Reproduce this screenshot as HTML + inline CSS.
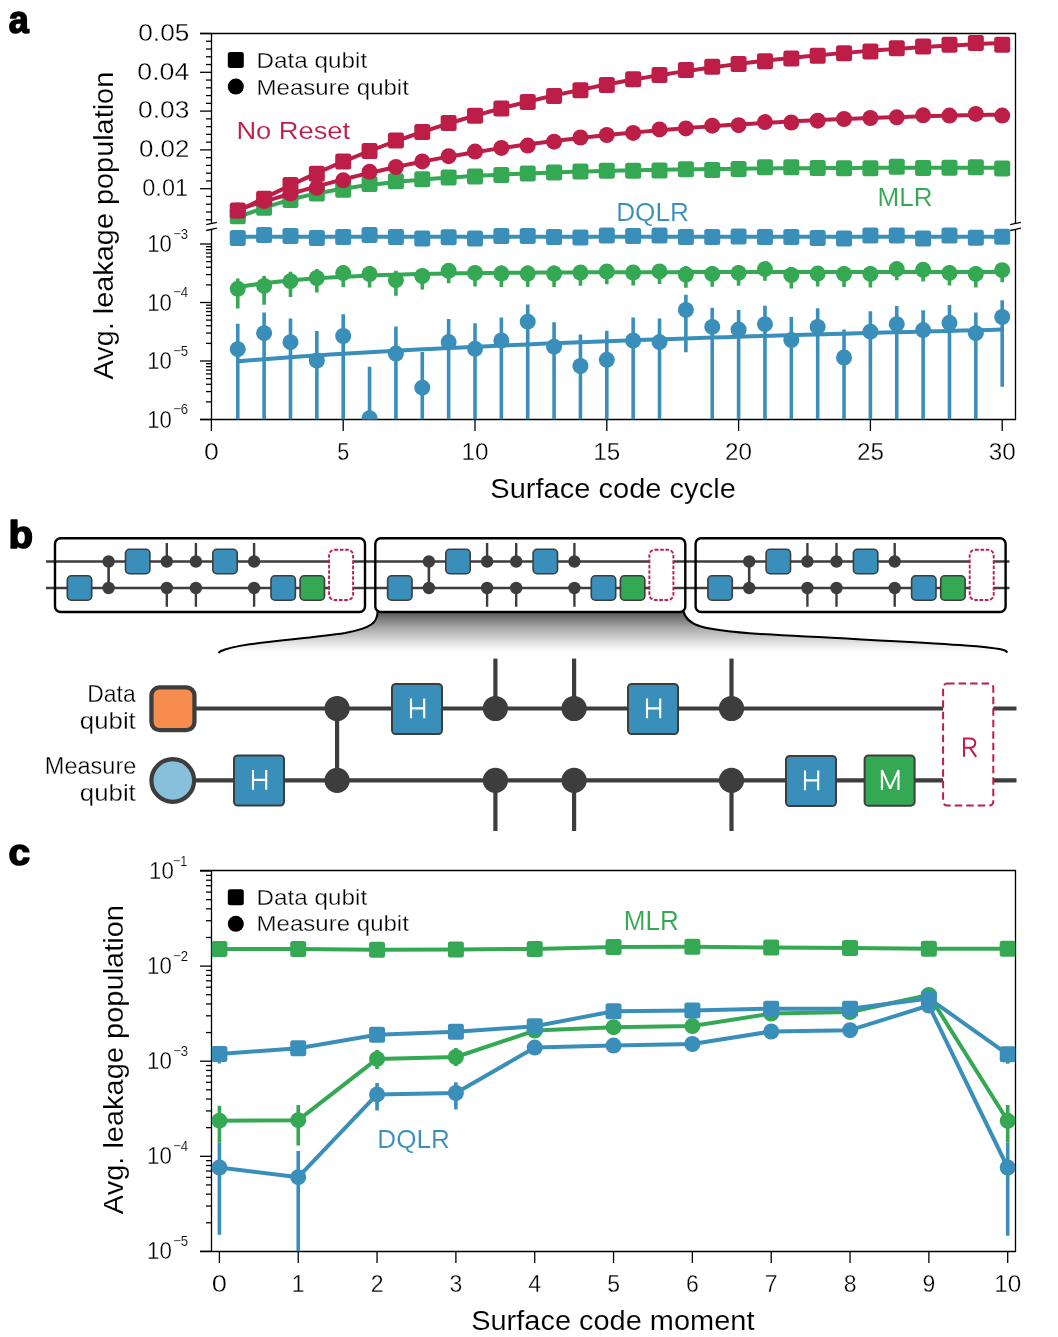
<!DOCTYPE html>
<html><head><meta charset="utf-8"><style>
html,body{margin:0;padding:0;background:#fff;}
svg{display:block;font-family:"Liberation Sans", sans-serif;will-change:transform;}
</style></head><body>
<svg width="1058" height="1337" viewBox="0 0 1058 1337">
<rect width="1058" height="1337" fill="#fff"/>
<defs>
<clipPath id="clipA"><rect x="211.5" y="33.5" width="804" height="386"/></clipPath>
<clipPath id="clipC"><rect x="211.5" y="870.5" width="804" height="381"/></clipPath>
<linearGradient id="fun" gradientUnits="userSpaceOnUse" x1="0" y1="611" x2="0" y2="652"><stop offset="0" stop-color="#555"/><stop offset="0.17" stop-color="#777"/><stop offset="0.41" stop-color="#a8a8a8"/><stop offset="0.69" stop-color="#d5d5d5"/><stop offset="0.84" stop-color="#ececec"/><stop offset="1" stop-color="#fff"/></linearGradient>
</defs>
<text x="8.8" y="32.9" font-size="38" fill="#000" textLength="20" lengthAdjust="spacingAndGlyphs" font-weight="bold" stroke="#000" stroke-width="1.6" stroke-linejoin="round">a</text>
<line x1="200.00" y1="33.50" x2="1016.10" y2="33.50" stroke="#000" stroke-width="1.3" />
<line x1="200.00" y1="419.50" x2="1016.10" y2="419.50" stroke="#000" stroke-width="1.3" />
<line x1="211.50" y1="33.50" x2="211.50" y2="223.40" stroke="#000" stroke-width="1.3" />
<line x1="211.50" y1="229.40" x2="211.50" y2="419.50" stroke="#000" stroke-width="1.3" />
<line x1="1015.50" y1="33.50" x2="1015.50" y2="223.30" stroke="#000" stroke-width="1.3" />
<line x1="1015.50" y1="229.40" x2="1015.50" y2="419.50" stroke="#000" stroke-width="1.3" />
<line x1="206.20" y1="224.70" x2="216.90" y2="222.30" stroke="#000" stroke-width="1.3" />
<line x1="206.20" y1="230.50" x2="216.90" y2="228.20" stroke="#000" stroke-width="1.3" />
<line x1="1010.20" y1="224.70" x2="1020.90" y2="222.30" stroke="#000" stroke-width="1.3" />
<line x1="1010.20" y1="230.50" x2="1020.90" y2="228.20" stroke="#000" stroke-width="1.3" />
<line x1="206.00" y1="219.74" x2="211.50" y2="219.74" stroke="#000" stroke-width="1.3" />
<line x1="206.00" y1="211.98" x2="211.50" y2="211.98" stroke="#000" stroke-width="1.3" />
<line x1="206.00" y1="204.22" x2="211.50" y2="204.22" stroke="#000" stroke-width="1.3" />
<line x1="206.00" y1="196.46" x2="211.50" y2="196.46" stroke="#000" stroke-width="1.3" />
<line x1="200.00" y1="188.70" x2="211.50" y2="188.70" stroke="#000" stroke-width="1.3" />
<line x1="206.00" y1="180.94" x2="211.50" y2="180.94" stroke="#000" stroke-width="1.3" />
<line x1="206.00" y1="173.18" x2="211.50" y2="173.18" stroke="#000" stroke-width="1.3" />
<line x1="206.00" y1="165.42" x2="211.50" y2="165.42" stroke="#000" stroke-width="1.3" />
<line x1="206.00" y1="157.66" x2="211.50" y2="157.66" stroke="#000" stroke-width="1.3" />
<line x1="200.00" y1="149.90" x2="211.50" y2="149.90" stroke="#000" stroke-width="1.3" />
<line x1="206.00" y1="142.14" x2="211.50" y2="142.14" stroke="#000" stroke-width="1.3" />
<line x1="206.00" y1="134.38" x2="211.50" y2="134.38" stroke="#000" stroke-width="1.3" />
<line x1="206.00" y1="126.62" x2="211.50" y2="126.62" stroke="#000" stroke-width="1.3" />
<line x1="206.00" y1="118.86" x2="211.50" y2="118.86" stroke="#000" stroke-width="1.3" />
<line x1="200.00" y1="111.10" x2="211.50" y2="111.10" stroke="#000" stroke-width="1.3" />
<line x1="206.00" y1="103.34" x2="211.50" y2="103.34" stroke="#000" stroke-width="1.3" />
<line x1="206.00" y1="95.58" x2="211.50" y2="95.58" stroke="#000" stroke-width="1.3" />
<line x1="206.00" y1="87.82" x2="211.50" y2="87.82" stroke="#000" stroke-width="1.3" />
<line x1="206.00" y1="80.06" x2="211.50" y2="80.06" stroke="#000" stroke-width="1.3" />
<line x1="200.00" y1="72.30" x2="211.50" y2="72.30" stroke="#000" stroke-width="1.3" />
<line x1="206.00" y1="64.54" x2="211.50" y2="64.54" stroke="#000" stroke-width="1.3" />
<line x1="206.00" y1="56.78" x2="211.50" y2="56.78" stroke="#000" stroke-width="1.3" />
<line x1="206.00" y1="49.02" x2="211.50" y2="49.02" stroke="#000" stroke-width="1.3" />
<line x1="206.00" y1="41.26" x2="211.50" y2="41.26" stroke="#000" stroke-width="1.3" />
<line x1="200.00" y1="33.50" x2="211.50" y2="33.50" stroke="#000" stroke-width="1.3" />
<text x="189.3" y="40.8" font-size="23" fill="#000" text-anchor="end" textLength="51" lengthAdjust="spacingAndGlyphs" stroke="#fff" stroke-width="0.3">0.05</text>
<text x="189.3" y="79.60000000000001" font-size="23" fill="#000" text-anchor="end" textLength="52" lengthAdjust="spacingAndGlyphs" stroke="#fff" stroke-width="0.3">0.04</text>
<text x="189.3" y="118.4" font-size="23" fill="#000" text-anchor="end" textLength="51.3" lengthAdjust="spacingAndGlyphs" stroke="#fff" stroke-width="0.3">0.03</text>
<text x="189.3" y="157.20000000000002" font-size="23" fill="#000" text-anchor="end" textLength="50.4" lengthAdjust="spacingAndGlyphs" stroke="#fff" stroke-width="0.3">0.02</text>
<text x="188.0" y="196.00000000000003" font-size="23" fill="#000" text-anchor="end" textLength="45.7" lengthAdjust="spacingAndGlyphs" stroke="#fff" stroke-width="0.3">0.01</text>
<line x1="200.00" y1="419.50" x2="211.50" y2="419.50" stroke="#000" stroke-width="1.3" />
<line x1="206.00" y1="401.89" x2="211.50" y2="401.89" stroke="#000" stroke-width="1.3" />
<line x1="206.00" y1="391.59" x2="211.50" y2="391.59" stroke="#000" stroke-width="1.3" />
<line x1="206.00" y1="384.28" x2="211.50" y2="384.28" stroke="#000" stroke-width="1.3" />
<line x1="206.00" y1="378.61" x2="211.50" y2="378.61" stroke="#000" stroke-width="1.3" />
<line x1="206.00" y1="373.98" x2="211.50" y2="373.98" stroke="#000" stroke-width="1.3" />
<line x1="206.00" y1="370.06" x2="211.50" y2="370.06" stroke="#000" stroke-width="1.3" />
<line x1="206.00" y1="366.67" x2="211.50" y2="366.67" stroke="#000" stroke-width="1.3" />
<line x1="206.00" y1="363.68" x2="211.50" y2="363.68" stroke="#000" stroke-width="1.3" />
<line x1="200.00" y1="361.00" x2="211.50" y2="361.00" stroke="#000" stroke-width="1.3" />
<line x1="206.00" y1="343.39" x2="211.50" y2="343.39" stroke="#000" stroke-width="1.3" />
<line x1="206.00" y1="333.09" x2="211.50" y2="333.09" stroke="#000" stroke-width="1.3" />
<line x1="206.00" y1="325.78" x2="211.50" y2="325.78" stroke="#000" stroke-width="1.3" />
<line x1="206.00" y1="320.11" x2="211.50" y2="320.11" stroke="#000" stroke-width="1.3" />
<line x1="206.00" y1="315.48" x2="211.50" y2="315.48" stroke="#000" stroke-width="1.3" />
<line x1="206.00" y1="311.56" x2="211.50" y2="311.56" stroke="#000" stroke-width="1.3" />
<line x1="206.00" y1="308.17" x2="211.50" y2="308.17" stroke="#000" stroke-width="1.3" />
<line x1="206.00" y1="305.18" x2="211.50" y2="305.18" stroke="#000" stroke-width="1.3" />
<line x1="200.00" y1="302.50" x2="211.50" y2="302.50" stroke="#000" stroke-width="1.3" />
<line x1="206.00" y1="284.89" x2="211.50" y2="284.89" stroke="#000" stroke-width="1.3" />
<line x1="206.00" y1="274.59" x2="211.50" y2="274.59" stroke="#000" stroke-width="1.3" />
<line x1="206.00" y1="267.28" x2="211.50" y2="267.28" stroke="#000" stroke-width="1.3" />
<line x1="206.00" y1="261.61" x2="211.50" y2="261.61" stroke="#000" stroke-width="1.3" />
<line x1="206.00" y1="256.98" x2="211.50" y2="256.98" stroke="#000" stroke-width="1.3" />
<line x1="206.00" y1="253.06" x2="211.50" y2="253.06" stroke="#000" stroke-width="1.3" />
<line x1="206.00" y1="249.67" x2="211.50" y2="249.67" stroke="#000" stroke-width="1.3" />
<line x1="206.00" y1="246.68" x2="211.50" y2="246.68" stroke="#000" stroke-width="1.3" />
<line x1="200.00" y1="244.00" x2="211.50" y2="244.00" stroke="#000" stroke-width="1.3" />
<text x="171.8" y="252.0" font-size="23" fill="#000" text-anchor="end" textLength="24.6" lengthAdjust="spacingAndGlyphs" stroke="#fff" stroke-width="0.3">10</text>
<text x="173.2" y="238.8" font-size="15.5" fill="#000" textLength="15" lengthAdjust="spacingAndGlyphs" stroke="#fff" stroke-width="0.15">−3</text>
<text x="171.8" y="310.5" font-size="23" fill="#000" text-anchor="end" textLength="24.6" lengthAdjust="spacingAndGlyphs" stroke="#fff" stroke-width="0.3">10</text>
<text x="173.2" y="297.3" font-size="15.5" fill="#000" textLength="15" lengthAdjust="spacingAndGlyphs" stroke="#fff" stroke-width="0.15">−4</text>
<text x="171.8" y="369.0" font-size="23" fill="#000" text-anchor="end" textLength="24.6" lengthAdjust="spacingAndGlyphs" stroke="#fff" stroke-width="0.3">10</text>
<text x="173.2" y="355.8" font-size="15.5" fill="#000" textLength="15" lengthAdjust="spacingAndGlyphs" stroke="#fff" stroke-width="0.15">−5</text>
<text x="171.8" y="427.5" font-size="23" fill="#000" text-anchor="end" textLength="24.6" lengthAdjust="spacingAndGlyphs" stroke="#fff" stroke-width="0.3">10</text>
<text x="173.2" y="414.3" font-size="15.5" fill="#000" textLength="15" lengthAdjust="spacingAndGlyphs" stroke="#fff" stroke-width="0.15">−6</text>
<line x1="211.40" y1="419.50" x2="211.40" y2="431.00" stroke="#000" stroke-width="1.3" />
<text x="211.4" y="460.3" font-size="23" fill="#000" text-anchor="middle" textLength="14.8" lengthAdjust="spacingAndGlyphs" stroke="#fff" stroke-width="0.3">0</text>
<line x1="343.20" y1="419.50" x2="343.20" y2="431.00" stroke="#000" stroke-width="1.3" />
<text x="343.20000000000005" y="460.3" font-size="23" fill="#000" text-anchor="middle" textLength="12" lengthAdjust="spacingAndGlyphs" stroke="#fff" stroke-width="0.3">5</text>
<line x1="475.00" y1="419.50" x2="475.00" y2="431.00" stroke="#000" stroke-width="1.3" />
<text x="475.0" y="460.3" font-size="23" fill="#000" text-anchor="middle" textLength="27" lengthAdjust="spacingAndGlyphs" stroke="#fff" stroke-width="0.3">10</text>
<line x1="606.80" y1="419.50" x2="606.80" y2="431.00" stroke="#000" stroke-width="1.3" />
<text x="606.8" y="460.3" font-size="23" fill="#000" text-anchor="middle" textLength="27" lengthAdjust="spacingAndGlyphs" stroke="#fff" stroke-width="0.3">15</text>
<line x1="738.60" y1="419.50" x2="738.60" y2="431.00" stroke="#000" stroke-width="1.3" />
<text x="738.6" y="460.3" font-size="23" fill="#000" text-anchor="middle" textLength="27" lengthAdjust="spacingAndGlyphs" stroke="#fff" stroke-width="0.3">20</text>
<line x1="870.40" y1="419.50" x2="870.40" y2="431.00" stroke="#000" stroke-width="1.3" />
<text x="870.4" y="460.3" font-size="23" fill="#000" text-anchor="middle" textLength="27" lengthAdjust="spacingAndGlyphs" stroke="#fff" stroke-width="0.3">25</text>
<line x1="1002.20" y1="419.50" x2="1002.20" y2="431.00" stroke="#000" stroke-width="1.3" />
<text x="1002.1999999999999" y="460.3" font-size="23" fill="#000" text-anchor="middle" textLength="27" lengthAdjust="spacingAndGlyphs" stroke="#fff" stroke-width="0.3">30</text>
<text x="490.3" y="497.6" font-size="27" fill="#000" textLength="245.5" lengthAdjust="spacingAndGlyphs" stroke="#fff" stroke-width="0.12">Surface code cycle</text>
<text transform="translate(113.2,379.4) rotate(-90)" font-size="27.5" textLength="307.6" lengthAdjust="spacingAndGlyphs" stroke="#fff" stroke-width="0.12">Avg. leakage population</text>
<rect x="227.80" y="51.90" width="16" height="16" rx="2.5" fill="#000"/>
<circle cx="235.80" cy="86.60" r="8" fill="#000"/>
<text x="256.6" y="67.8" font-size="21.5" fill="#000" textLength="110.6" lengthAdjust="spacingAndGlyphs" stroke="#fff" stroke-width="0.3">Data qubit</text>
<text x="256.6" y="94.6" font-size="21.5" fill="#000" textLength="152.3" lengthAdjust="spacingAndGlyphs" stroke="#fff" stroke-width="0.3">Measure qubit</text>
<text x="236.4" y="139.3" font-size="24.5" fill="#BD1E48" textLength="113.7" lengthAdjust="spacingAndGlyphs" stroke="#fff" stroke-width="0.12">No Reset</text>
<text x="616.2" y="220.9" font-size="26.3" fill="#3A8FBA" textLength="72.8" lengthAdjust="spacingAndGlyphs" stroke="#fff" stroke-width="0.12">DQLR</text>
<text x="877.6" y="205.7" font-size="26.3" fill="#35A853" textLength="55" lengthAdjust="spacingAndGlyphs" stroke="#fff" stroke-width="0.12">MLR</text>
<g clip-path="url(#clipA)">
<polyline points="237.76,361.24 250.94,360.18 264.12,359.16 277.30,358.18 290.48,357.24 303.66,356.33 316.84,355.45 330.02,354.60 343.20,353.78 356.38,352.99 369.56,352.22 382.74,351.47 395.92,350.74 409.10,350.03 422.28,349.35 435.46,348.68 448.64,348.02 461.82,347.39 475.00,346.77 488.18,346.16 501.36,345.57 514.54,344.99 527.72,344.43 540.90,343.87 554.08,343.33 567.26,342.80 580.44,342.28 593.62,341.77 606.80,341.28 619.98,340.79 633.16,340.31 646.34,339.84 659.52,339.37 672.70,338.92 685.88,338.47 699.06,338.03 712.24,337.60 725.42,337.18 738.60,336.76 751.78,336.35 764.96,335.95 778.14,335.55 791.32,335.16 804.50,334.78 817.68,334.40 830.86,334.02 844.04,333.65 857.22,333.29 870.40,332.93 883.58,332.58 896.76,332.23 909.94,331.89 923.12,331.55 936.30,331.21 949.48,330.88 962.66,330.56 975.84,330.24 989.02,329.92 1002.20,329.60" fill="none" stroke="#3A8FBA" stroke-width="4" stroke-linejoin="round" />
<polyline points="237.76,287.03 250.94,285.03 264.12,283.29 277.30,281.79 290.48,280.49 303.66,279.36 316.84,278.38 330.02,277.53 343.20,276.79 356.38,276.15 369.56,275.60 382.74,275.12 395.92,274.71 409.10,274.35 422.28,274.03 435.46,273.76 448.64,273.53 461.82,273.33 475.00,273.15 488.18,273.00 501.36,272.86 514.54,272.75 527.72,272.65 540.90,272.56 554.08,272.49 567.26,272.42 580.44,272.37 593.62,272.32 606.80,272.28 619.98,272.24 633.16,272.21 646.34,272.18 659.52,272.16 672.70,272.13 685.88,272.12 699.06,272.10 712.24,272.09 725.42,272.08 738.60,272.07 751.78,272.06 764.96,272.05 778.14,272.04 791.32,272.04 804.50,272.03 817.68,272.03 830.86,272.02 844.04,272.02 857.22,272.02 870.40,272.02 883.58,272.01 896.76,272.01 909.94,272.01 923.12,272.01 936.30,272.01 949.48,272.01 962.66,272.01 975.84,272.01 989.02,272.00 1002.20,272.00" fill="none" stroke="#35A853" stroke-width="4" stroke-linejoin="round" />
<line x1="237.76" y1="323.70" x2="237.76" y2="419.50" stroke="#3A8FBA" stroke-width="3.6" />
<line x1="264.12" y1="312.40" x2="264.12" y2="419.50" stroke="#3A8FBA" stroke-width="3.6" />
<line x1="290.48" y1="318.40" x2="290.48" y2="419.50" stroke="#3A8FBA" stroke-width="3.6" />
<line x1="316.84" y1="330.90" x2="316.84" y2="419.50" stroke="#3A8FBA" stroke-width="3.6" />
<line x1="343.20" y1="314.30" x2="343.20" y2="419.50" stroke="#3A8FBA" stroke-width="3.6" />
<line x1="369.56" y1="366.80" x2="369.56" y2="419.50" stroke="#3A8FBA" stroke-width="3.6" />
<line x1="395.92" y1="326.60" x2="395.92" y2="419.50" stroke="#3A8FBA" stroke-width="3.6" />
<line x1="422.28" y1="351.90" x2="422.28" y2="419.50" stroke="#3A8FBA" stroke-width="3.6" />
<line x1="448.64" y1="319.00" x2="448.64" y2="419.50" stroke="#3A8FBA" stroke-width="3.6" />
<line x1="475.00" y1="323.20" x2="475.00" y2="419.50" stroke="#3A8FBA" stroke-width="3.6" />
<line x1="501.36" y1="317.60" x2="501.36" y2="419.50" stroke="#3A8FBA" stroke-width="3.6" />
<line x1="527.72" y1="304.50" x2="527.72" y2="419.50" stroke="#3A8FBA" stroke-width="3.6" />
<line x1="554.08" y1="322.20" x2="554.08" y2="419.50" stroke="#3A8FBA" stroke-width="3.6" />
<line x1="580.44" y1="334.60" x2="580.44" y2="419.50" stroke="#3A8FBA" stroke-width="3.6" />
<line x1="606.80" y1="330.70" x2="606.80" y2="419.50" stroke="#3A8FBA" stroke-width="3.6" />
<line x1="633.16" y1="317.60" x2="633.16" y2="419.50" stroke="#3A8FBA" stroke-width="3.6" />
<line x1="659.52" y1="318.60" x2="659.52" y2="419.50" stroke="#3A8FBA" stroke-width="3.6" />
<line x1="685.88" y1="294.70" x2="685.88" y2="352.30" stroke="#3A8FBA" stroke-width="3.6" />
<line x1="712.24" y1="307.80" x2="712.24" y2="419.50" stroke="#3A8FBA" stroke-width="3.6" />
<line x1="738.60" y1="309.90" x2="738.60" y2="419.50" stroke="#3A8FBA" stroke-width="3.6" />
<line x1="764.96" y1="305.70" x2="764.96" y2="419.50" stroke="#3A8FBA" stroke-width="3.6" />
<line x1="791.32" y1="317.00" x2="791.32" y2="419.50" stroke="#3A8FBA" stroke-width="3.6" />
<line x1="817.68" y1="308.20" x2="817.68" y2="419.50" stroke="#3A8FBA" stroke-width="3.6" />
<line x1="844.04" y1="329.40" x2="844.04" y2="419.50" stroke="#3A8FBA" stroke-width="3.6" />
<line x1="870.40" y1="311.30" x2="870.40" y2="419.50" stroke="#3A8FBA" stroke-width="3.6" />
<line x1="896.76" y1="306.10" x2="896.76" y2="419.50" stroke="#3A8FBA" stroke-width="3.6" />
<line x1="923.12" y1="310.30" x2="923.12" y2="419.50" stroke="#3A8FBA" stroke-width="3.6" />
<line x1="949.48" y1="305.10" x2="949.48" y2="419.50" stroke="#3A8FBA" stroke-width="3.6" />
<line x1="975.84" y1="312.40" x2="975.84" y2="419.50" stroke="#3A8FBA" stroke-width="3.6" />
<line x1="1002.20" y1="300.30" x2="1002.20" y2="386.80" stroke="#3A8FBA" stroke-width="3.6" />
<line x1="237.76" y1="278.40" x2="237.76" y2="308.60" stroke="#35A853" stroke-width="3.6" />
<line x1="264.12" y1="276.10" x2="264.12" y2="304.80" stroke="#35A853" stroke-width="3.6" />
<line x1="290.48" y1="271.70" x2="290.48" y2="296.90" stroke="#35A853" stroke-width="3.6" />
<line x1="316.84" y1="268.90" x2="316.84" y2="292.50" stroke="#35A853" stroke-width="3.6" />
<line x1="343.20" y1="265.10" x2="343.20" y2="286.90" stroke="#35A853" stroke-width="3.6" />
<line x1="369.56" y1="266.00" x2="369.56" y2="287.40" stroke="#35A853" stroke-width="3.6" />
<line x1="395.92" y1="270.80" x2="395.92" y2="295.70" stroke="#35A853" stroke-width="3.6" />
<line x1="422.28" y1="268.70" x2="422.28" y2="289.50" stroke="#35A853" stroke-width="3.6" />
<line x1="448.64" y1="263.50" x2="448.64" y2="283.30" stroke="#35A853" stroke-width="3.6" />
<line x1="475.00" y1="265.60" x2="475.00" y2="286.40" stroke="#35A853" stroke-width="3.6" />
<line x1="501.36" y1="265.60" x2="501.36" y2="287.00" stroke="#35A853" stroke-width="3.6" />
<line x1="527.72" y1="265.60" x2="527.72" y2="287.00" stroke="#35A853" stroke-width="3.6" />
<line x1="554.08" y1="265.60" x2="554.08" y2="287.00" stroke="#35A853" stroke-width="3.6" />
<line x1="580.44" y1="265.00" x2="580.44" y2="285.80" stroke="#35A853" stroke-width="3.6" />
<line x1="606.80" y1="264.00" x2="606.80" y2="284.30" stroke="#35A853" stroke-width="3.6" />
<line x1="633.16" y1="265.00" x2="633.16" y2="285.40" stroke="#35A853" stroke-width="3.6" />
<line x1="659.52" y1="264.00" x2="659.52" y2="283.90" stroke="#35A853" stroke-width="3.6" />
<line x1="685.88" y1="266.00" x2="685.88" y2="287.80" stroke="#35A853" stroke-width="3.6" />
<line x1="712.24" y1="266.00" x2="712.24" y2="286.80" stroke="#35A853" stroke-width="3.6" />
<line x1="738.60" y1="265.00" x2="738.60" y2="285.80" stroke="#35A853" stroke-width="3.6" />
<line x1="764.96" y1="262.00" x2="764.96" y2="280.80" stroke="#35A853" stroke-width="3.6" />
<line x1="791.32" y1="267.00" x2="791.32" y2="288.50" stroke="#35A853" stroke-width="3.6" />
<line x1="817.68" y1="266.00" x2="817.68" y2="286.60" stroke="#35A853" stroke-width="3.6" />
<line x1="844.04" y1="266.00" x2="844.04" y2="287.00" stroke="#35A853" stroke-width="3.6" />
<line x1="870.40" y1="266.00" x2="870.40" y2="287.40" stroke="#35A853" stroke-width="3.6" />
<line x1="896.76" y1="262.00" x2="896.76" y2="280.20" stroke="#35A853" stroke-width="3.6" />
<line x1="923.12" y1="262.00" x2="923.12" y2="281.60" stroke="#35A853" stroke-width="3.6" />
<line x1="949.48" y1="265.00" x2="949.48" y2="285.40" stroke="#35A853" stroke-width="3.6" />
<line x1="975.84" y1="266.00" x2="975.84" y2="287.40" stroke="#35A853" stroke-width="3.6" />
<line x1="1002.20" y1="263.00" x2="1002.20" y2="282.20" stroke="#35A853" stroke-width="3.6" />
<circle cx="237.76" cy="288.80" r="8" fill="#35A853"/>
<circle cx="264.12" cy="285.90" r="8" fill="#35A853"/>
<circle cx="290.48" cy="281.20" r="8" fill="#35A853"/>
<circle cx="316.84" cy="278.00" r="8" fill="#35A853"/>
<circle cx="343.20" cy="273.10" r="8" fill="#35A853"/>
<circle cx="369.56" cy="274.00" r="8" fill="#35A853"/>
<circle cx="395.92" cy="280.20" r="8" fill="#35A853"/>
<circle cx="422.28" cy="276.00" r="8" fill="#35A853"/>
<circle cx="448.64" cy="270.80" r="8" fill="#35A853"/>
<circle cx="475.00" cy="272.90" r="8" fill="#35A853"/>
<circle cx="501.36" cy="273.50" r="8" fill="#35A853"/>
<circle cx="527.72" cy="273.50" r="8" fill="#35A853"/>
<circle cx="554.08" cy="273.50" r="8" fill="#35A853"/>
<circle cx="580.44" cy="272.50" r="8" fill="#35A853"/>
<circle cx="606.80" cy="271.60" r="8" fill="#35A853"/>
<circle cx="633.16" cy="272.50" r="8" fill="#35A853"/>
<circle cx="659.52" cy="271.40" r="8" fill="#35A853"/>
<circle cx="685.88" cy="274.50" r="8" fill="#35A853"/>
<circle cx="712.24" cy="273.90" r="8" fill="#35A853"/>
<circle cx="738.60" cy="272.90" r="8" fill="#35A853"/>
<circle cx="764.96" cy="269.10" r="8" fill="#35A853"/>
<circle cx="791.32" cy="275.00" r="8" fill="#35A853"/>
<circle cx="817.68" cy="273.60" r="8" fill="#35A853"/>
<circle cx="844.04" cy="273.90" r="8" fill="#35A853"/>
<circle cx="870.40" cy="273.90" r="8" fill="#35A853"/>
<circle cx="896.76" cy="269.10" r="8" fill="#35A853"/>
<circle cx="923.12" cy="269.80" r="8" fill="#35A853"/>
<circle cx="949.48" cy="272.90" r="8" fill="#35A853"/>
<circle cx="975.84" cy="273.90" r="8" fill="#35A853"/>
<circle cx="1002.20" cy="270.20" r="8" fill="#35A853"/>
<circle cx="237.76" cy="349.20" r="8" fill="#3A8FBA"/>
<circle cx="264.12" cy="333.20" r="8" fill="#3A8FBA"/>
<circle cx="290.48" cy="342.20" r="8" fill="#3A8FBA"/>
<circle cx="316.84" cy="360.60" r="8" fill="#3A8FBA"/>
<circle cx="343.20" cy="336.00" r="8" fill="#3A8FBA"/>
<circle cx="369.56" cy="418.20" r="8" fill="#3A8FBA"/>
<circle cx="395.92" cy="353.60" r="8" fill="#3A8FBA"/>
<circle cx="422.28" cy="387.70" r="8" fill="#3A8FBA"/>
<circle cx="448.64" cy="342.10" r="8" fill="#3A8FBA"/>
<circle cx="475.00" cy="348.80" r="8" fill="#3A8FBA"/>
<circle cx="501.36" cy="340.50" r="8" fill="#3A8FBA"/>
<circle cx="527.72" cy="321.70" r="8" fill="#3A8FBA"/>
<circle cx="554.08" cy="346.70" r="8" fill="#3A8FBA"/>
<circle cx="580.44" cy="366.00" r="8" fill="#3A8FBA"/>
<circle cx="606.80" cy="359.80" r="8" fill="#3A8FBA"/>
<circle cx="633.16" cy="340.50" r="8" fill="#3A8FBA"/>
<circle cx="659.52" cy="342.10" r="8" fill="#3A8FBA"/>
<circle cx="685.88" cy="309.90" r="8" fill="#3A8FBA"/>
<circle cx="712.24" cy="326.90" r="8" fill="#3A8FBA"/>
<circle cx="738.60" cy="329.60" r="8" fill="#3A8FBA"/>
<circle cx="764.96" cy="324.20" r="8" fill="#3A8FBA"/>
<circle cx="791.32" cy="340.00" r="8" fill="#3A8FBA"/>
<circle cx="817.68" cy="326.90" r="8" fill="#3A8FBA"/>
<circle cx="844.04" cy="357.50" r="8" fill="#3A8FBA"/>
<circle cx="870.40" cy="331.70" r="8" fill="#3A8FBA"/>
<circle cx="896.76" cy="324.20" r="8" fill="#3A8FBA"/>
<circle cx="923.12" cy="330.10" r="8" fill="#3A8FBA"/>
<circle cx="949.48" cy="322.80" r="8" fill="#3A8FBA"/>
<circle cx="975.84" cy="333.20" r="8" fill="#3A8FBA"/>
<circle cx="1002.20" cy="317.00" r="8" fill="#3A8FBA"/>
<polyline points="237.76,236.80 1002.20,236.80" fill="none" stroke="#3A8FBA" stroke-width="4" stroke-linejoin="round" />
<rect x="229.76" y="230.00" width="16" height="16" rx="2.5" fill="#3A8FBA"/>
<rect x="256.12" y="227.10" width="16" height="16" rx="2.5" fill="#3A8FBA"/>
<rect x="282.48" y="228.00" width="16" height="16" rx="2.5" fill="#3A8FBA"/>
<rect x="308.84" y="230.00" width="16" height="16" rx="2.5" fill="#3A8FBA"/>
<rect x="335.20" y="229.00" width="16" height="16" rx="2.5" fill="#3A8FBA"/>
<rect x="361.56" y="227.10" width="16" height="16" rx="2.5" fill="#3A8FBA"/>
<rect x="387.92" y="229.00" width="16" height="16" rx="2.5" fill="#3A8FBA"/>
<rect x="414.28" y="230.40" width="16" height="16" rx="2.5" fill="#3A8FBA"/>
<rect x="440.64" y="229.30" width="16" height="16" rx="2.5" fill="#3A8FBA"/>
<rect x="467.00" y="230.40" width="16" height="16" rx="2.5" fill="#3A8FBA"/>
<rect x="493.36" y="227.90" width="16" height="16" rx="2.5" fill="#3A8FBA"/>
<rect x="519.72" y="227.90" width="16" height="16" rx="2.5" fill="#3A8FBA"/>
<rect x="546.08" y="228.90" width="16" height="16" rx="2.5" fill="#3A8FBA"/>
<rect x="572.44" y="229.50" width="16" height="16" rx="2.5" fill="#3A8FBA"/>
<rect x="598.80" y="227.40" width="16" height="16" rx="2.5" fill="#3A8FBA"/>
<rect x="625.16" y="227.90" width="16" height="16" rx="2.5" fill="#3A8FBA"/>
<rect x="651.52" y="227.40" width="16" height="16" rx="2.5" fill="#3A8FBA"/>
<rect x="677.88" y="228.90" width="16" height="16" rx="2.5" fill="#3A8FBA"/>
<rect x="704.24" y="228.90" width="16" height="16" rx="2.5" fill="#3A8FBA"/>
<rect x="730.60" y="228.50" width="16" height="16" rx="2.5" fill="#3A8FBA"/>
<rect x="756.96" y="228.90" width="16" height="16" rx="2.5" fill="#3A8FBA"/>
<rect x="783.32" y="228.90" width="16" height="16" rx="2.5" fill="#3A8FBA"/>
<rect x="809.68" y="230.00" width="16" height="16" rx="2.5" fill="#3A8FBA"/>
<rect x="836.04" y="230.40" width="16" height="16" rx="2.5" fill="#3A8FBA"/>
<rect x="862.40" y="227.40" width="16" height="16" rx="2.5" fill="#3A8FBA"/>
<rect x="888.76" y="227.40" width="16" height="16" rx="2.5" fill="#3A8FBA"/>
<rect x="915.12" y="230.40" width="16" height="16" rx="2.5" fill="#3A8FBA"/>
<rect x="941.48" y="227.50" width="16" height="16" rx="2.5" fill="#3A8FBA"/>
<rect x="967.84" y="229.80" width="16" height="16" rx="2.5" fill="#3A8FBA"/>
<rect x="994.20" y="228.80" width="16" height="16" rx="2.5" fill="#3A8FBA"/>
<polyline points="237.76,216.19 244.35,214.65 250.94,212.49 257.53,210.17 264.12,207.86 270.71,205.64 277.30,203.54 283.89,201.57 290.48,199.73 297.07,198.01 303.66,196.41 310.25,194.91 316.84,193.51 323.43,192.20 330.02,190.97 336.61,189.82 343.20,188.73 349.79,187.72 356.38,186.76 362.97,185.85 369.56,185.00 376.15,184.19 382.74,183.42 389.33,182.70 395.92,182.01 402.51,181.36 409.10,180.74 415.69,180.15 422.28,179.60 428.87,179.06 435.46,178.56 442.05,178.07 448.64,177.61 455.23,177.17 461.82,176.75 468.41,176.35 475.00,175.97 481.59,175.60 488.18,175.25 494.77,174.91 501.36,174.59 507.95,174.28 514.54,173.99 521.13,173.71 527.72,173.43 534.31,173.18 540.90,172.93 547.49,172.69 554.08,172.46 560.67,172.24 567.26,172.03 573.85,171.83 580.44,171.63 587.03,171.45 593.62,171.27 600.21,171.09 606.80,170.93 613.39,170.77 619.98,170.62 626.57,170.47 633.16,170.33 639.75,170.20 646.34,170.07 652.93,169.95 659.52,169.83 666.11,169.71 672.70,169.60 679.29,169.50 685.88,169.40 692.47,169.30 699.06,169.21 705.65,169.12 712.24,169.04 718.83,168.95 725.42,168.88 732.01,168.80 738.60,168.73 745.19,168.66 751.78,168.60 758.37,168.54 764.96,168.48 771.55,168.42 778.14,168.37 784.73,168.31 791.32,168.27 797.91,168.22 804.50,168.18 811.09,168.13 817.68,168.09 824.27,168.06 830.86,168.02 837.45,167.99 844.04,167.96 850.63,167.93 857.22,167.90 863.81,167.87 870.40,167.85 876.99,167.83 883.58,167.81 890.17,167.79 896.76,167.77 903.35,167.75 909.94,167.74 916.53,167.73 923.12,167.71 929.71,167.70 936.30,167.69 942.89,167.69 949.48,167.68 956.07,167.67 962.66,167.67 969.25,167.66 975.84,167.66 982.43,167.66 989.02,167.66 995.61,167.66 1002.20,167.66" fill="none" stroke="#35A853" stroke-width="4" stroke-linejoin="round" />
<rect x="229.76" y="208.20" width="16" height="16" rx="2.5" fill="#35A853"/>
<rect x="256.12" y="199.70" width="16" height="16" rx="2.5" fill="#35A853"/>
<rect x="282.48" y="192.00" width="16" height="16" rx="2.5" fill="#35A853"/>
<rect x="308.84" y="185.50" width="16" height="16" rx="2.5" fill="#35A853"/>
<rect x="335.20" y="181.70" width="16" height="16" rx="2.5" fill="#35A853"/>
<rect x="361.56" y="176.00" width="16" height="16" rx="2.5" fill="#35A853"/>
<rect x="387.92" y="173.20" width="16" height="16" rx="2.5" fill="#35A853"/>
<rect x="414.28" y="171.30" width="16" height="16" rx="2.5" fill="#35A853"/>
<rect x="440.64" y="169.60" width="16" height="16" rx="2.5" fill="#35A853"/>
<rect x="467.00" y="168.60" width="16" height="16" rx="2.5" fill="#35A853"/>
<rect x="493.36" y="167.10" width="16" height="16" rx="2.5" fill="#35A853"/>
<rect x="519.72" y="165.50" width="16" height="16" rx="2.5" fill="#35A853"/>
<rect x="546.08" y="164.40" width="16" height="16" rx="2.5" fill="#35A853"/>
<rect x="572.44" y="163.40" width="16" height="16" rx="2.5" fill="#35A853"/>
<rect x="598.80" y="162.80" width="16" height="16" rx="2.5" fill="#35A853"/>
<rect x="625.16" y="162.80" width="16" height="16" rx="2.5" fill="#35A853"/>
<rect x="651.52" y="162.40" width="16" height="16" rx="2.5" fill="#35A853"/>
<rect x="677.88" y="161.30" width="16" height="16" rx="2.5" fill="#35A853"/>
<rect x="704.24" y="162.00" width="16" height="16" rx="2.5" fill="#35A853"/>
<rect x="730.60" y="160.90" width="16" height="16" rx="2.5" fill="#35A853"/>
<rect x="756.96" y="159.20" width="16" height="16" rx="2.5" fill="#35A853"/>
<rect x="783.32" y="159.20" width="16" height="16" rx="2.5" fill="#35A853"/>
<rect x="809.68" y="160.00" width="16" height="16" rx="2.5" fill="#35A853"/>
<rect x="836.04" y="160.30" width="16" height="16" rx="2.5" fill="#35A853"/>
<rect x="862.40" y="160.30" width="16" height="16" rx="2.5" fill="#35A853"/>
<rect x="888.76" y="158.80" width="16" height="16" rx="2.5" fill="#35A853"/>
<rect x="915.12" y="159.90" width="16" height="16" rx="2.5" fill="#35A853"/>
<rect x="941.48" y="159.80" width="16" height="16" rx="2.5" fill="#35A853"/>
<rect x="967.84" y="159.30" width="16" height="16" rx="2.5" fill="#35A853"/>
<rect x="994.20" y="160.50" width="16" height="16" rx="2.5" fill="#35A853"/>
<polyline points="237.76,210.39 244.35,207.60 250.94,205.40 257.53,203.41 264.12,201.48 270.71,199.57 277.30,197.66 283.89,195.76 290.48,193.86 297.07,191.98 303.66,190.11 310.25,188.26 316.84,186.43 323.43,184.64 330.02,182.87 336.61,181.14 343.20,179.44 349.79,177.77 356.38,176.13 362.97,174.53 369.56,172.97 376.15,171.44 382.74,169.94 389.33,168.47 395.92,167.04 402.51,165.64 409.10,164.28 415.69,162.94 422.28,161.64 428.87,160.36 435.46,159.12 442.05,157.90 448.64,156.71 455.23,155.55 461.82,154.42 468.41,153.31 475.00,152.23 481.59,151.17 488.18,150.14 494.77,149.13 501.36,148.14 507.95,147.18 514.54,146.24 521.13,145.32 527.72,144.42 534.31,143.55 540.90,142.69 547.49,141.85 554.08,141.03 560.67,140.23 567.26,139.45 573.85,138.69 580.44,137.94 587.03,137.21 593.62,136.50 600.21,135.81 606.80,135.13 613.39,134.46 619.98,133.82 626.57,133.18 633.16,132.56 639.75,131.96 646.34,131.37 652.93,130.79 659.52,130.23 666.11,129.68 672.70,129.15 679.29,128.62 685.88,128.11 692.47,127.61 699.06,127.12 705.65,126.65 712.24,126.18 718.83,125.73 725.42,125.29 732.01,124.86 738.60,124.44 745.19,124.03 751.78,123.63 758.37,123.24 764.96,122.86 771.55,122.49 778.14,122.13 784.73,121.78 791.32,121.44 797.91,121.10 804.50,120.78 811.09,120.46 817.68,120.16 824.27,119.86 830.86,119.57 837.45,119.29 844.04,119.01 850.63,118.75 857.22,118.49 863.81,118.24 870.40,117.99 876.99,117.76 883.58,117.53 890.17,117.31 896.76,117.09 903.35,116.88 909.94,116.68 916.53,116.49 923.12,116.30 929.71,116.12 936.30,115.94 942.89,115.77 949.48,115.61 956.07,115.45 962.66,115.30 969.25,115.16 975.84,115.02 982.43,114.89 989.02,114.76 995.61,114.64 1002.20,114.52" fill="none" stroke="#BD1E48" stroke-width="4" stroke-linejoin="round" />
<circle cx="237.76" cy="210.50" r="8" fill="#BD1E48"/>
<circle cx="264.12" cy="201.00" r="8" fill="#BD1E48"/>
<circle cx="290.48" cy="193.50" r="8" fill="#BD1E48"/>
<circle cx="316.84" cy="187.80" r="8" fill="#BD1E48"/>
<circle cx="343.20" cy="180.30" r="8" fill="#BD1E48"/>
<circle cx="369.56" cy="171.80" r="8" fill="#BD1E48"/>
<circle cx="395.92" cy="167.00" r="8" fill="#BD1E48"/>
<circle cx="422.28" cy="161.40" r="8" fill="#BD1E48"/>
<circle cx="448.64" cy="156.20" r="8" fill="#BD1E48"/>
<circle cx="475.00" cy="151.60" r="8" fill="#BD1E48"/>
<circle cx="501.36" cy="147.90" r="8" fill="#BD1E48"/>
<circle cx="527.72" cy="145.60" r="8" fill="#BD1E48"/>
<circle cx="554.08" cy="141.70" r="8" fill="#BD1E48"/>
<circle cx="580.44" cy="137.50" r="8" fill="#BD1E48"/>
<circle cx="606.80" cy="135.00" r="8" fill="#BD1E48"/>
<circle cx="633.16" cy="132.90" r="8" fill="#BD1E48"/>
<circle cx="659.52" cy="129.40" r="8" fill="#BD1E48"/>
<circle cx="685.88" cy="128.40" r="8" fill="#BD1E48"/>
<circle cx="712.24" cy="125.70" r="8" fill="#BD1E48"/>
<circle cx="738.60" cy="125.20" r="8" fill="#BD1E48"/>
<circle cx="764.96" cy="122.10" r="8" fill="#BD1E48"/>
<circle cx="791.32" cy="122.50" r="8" fill="#BD1E48"/>
<circle cx="817.68" cy="120.70" r="8" fill="#BD1E48"/>
<circle cx="844.04" cy="119.00" r="8" fill="#BD1E48"/>
<circle cx="870.40" cy="118.00" r="8" fill="#BD1E48"/>
<circle cx="896.76" cy="117.30" r="8" fill="#BD1E48"/>
<circle cx="923.12" cy="115.30" r="8" fill="#BD1E48"/>
<circle cx="949.48" cy="115.60" r="8" fill="#BD1E48"/>
<circle cx="975.84" cy="113.90" r="8" fill="#BD1E48"/>
<circle cx="1002.20" cy="115.60" r="8" fill="#BD1E48"/>
<polyline points="237.76,210.83 244.35,207.77 250.94,204.60 257.53,201.37 264.12,198.12 270.71,194.88 277.30,191.66 283.89,188.46 290.48,185.31 297.07,182.19 303.66,179.11 310.25,176.09 316.84,173.11 323.43,170.18 330.02,167.29 336.61,164.46 343.20,161.68 349.79,158.95 356.38,156.26 362.97,153.62 369.56,151.04 376.15,148.50 382.74,146.00 389.33,143.56 395.92,141.16 402.51,138.80 409.10,136.49 415.69,134.22 422.28,132.00 428.87,129.82 435.46,127.67 442.05,125.57 448.64,123.51 455.23,121.49 461.82,119.51 468.41,117.57 475.00,115.66 481.59,113.80 488.18,111.96 494.77,110.17 501.36,108.40 507.95,106.68 514.54,104.98 521.13,103.32 527.72,101.69 534.31,100.10 540.90,98.54 547.49,97.00 554.08,95.50 560.67,94.03 567.26,92.58 573.85,91.17 580.44,89.78 587.03,88.43 593.62,87.10 600.21,85.79 606.80,84.52 613.39,83.27 619.98,82.04 626.57,80.84 633.16,79.67 639.75,78.52 646.34,77.39 652.93,76.29 659.52,75.21 666.11,74.16 672.70,73.12 679.29,72.11 685.88,71.12 692.47,70.15 699.06,69.20 705.65,68.27 712.24,67.37 718.83,66.48 725.42,65.61 732.01,64.76 738.60,63.93 745.19,63.12 751.78,62.33 758.37,61.55 764.96,60.80 771.55,60.06 778.14,59.33 784.73,58.63 791.32,57.94 797.91,57.26 804.50,56.60 811.09,55.96 817.68,55.33 824.27,54.72 830.86,54.12 837.45,53.54 844.04,52.97 850.63,52.42 857.22,51.88 863.81,51.35 870.40,50.83 876.99,50.33 883.58,49.84 890.17,49.37 896.76,48.90 903.35,48.45 909.94,48.01 916.53,47.58 923.12,47.16 929.71,46.75 936.30,46.36 942.89,45.97 949.48,45.60 956.07,45.23 962.66,44.88 969.25,44.53 975.84,44.20 982.43,43.87 989.02,43.55 995.61,43.25 1002.20,42.95" fill="none" stroke="#BD1E48" stroke-width="4" stroke-linejoin="round" />
<rect x="229.76" y="202.50" width="16" height="16" rx="2.5" fill="#BD1E48"/>
<rect x="256.12" y="190.80" width="16" height="16" rx="2.5" fill="#BD1E48"/>
<rect x="282.48" y="177.00" width="16" height="16" rx="2.5" fill="#BD1E48"/>
<rect x="308.84" y="165.70" width="16" height="16" rx="2.5" fill="#BD1E48"/>
<rect x="335.20" y="153.40" width="16" height="16" rx="2.5" fill="#BD1E48"/>
<rect x="361.56" y="143.00" width="16" height="16" rx="2.5" fill="#BD1E48"/>
<rect x="387.92" y="132.60" width="16" height="16" rx="2.5" fill="#BD1E48"/>
<rect x="414.28" y="123.90" width="16" height="16" rx="2.5" fill="#BD1E48"/>
<rect x="440.64" y="115.00" width="16" height="16" rx="2.5" fill="#BD1E48"/>
<rect x="467.00" y="107.70" width="16" height="16" rx="2.5" fill="#BD1E48"/>
<rect x="493.36" y="100.40" width="16" height="16" rx="2.5" fill="#BD1E48"/>
<rect x="519.72" y="94.00" width="16" height="16" rx="2.5" fill="#BD1E48"/>
<rect x="546.08" y="88.10" width="16" height="16" rx="2.5" fill="#BD1E48"/>
<rect x="572.44" y="82.30" width="16" height="16" rx="2.5" fill="#BD1E48"/>
<rect x="598.80" y="77.10" width="16" height="16" rx="2.5" fill="#BD1E48"/>
<rect x="625.16" y="71.30" width="16" height="16" rx="2.5" fill="#BD1E48"/>
<rect x="651.52" y="67.10" width="16" height="16" rx="2.5" fill="#BD1E48"/>
<rect x="677.88" y="62.10" width="16" height="16" rx="2.5" fill="#BD1E48"/>
<rect x="704.24" y="58.80" width="16" height="16" rx="2.5" fill="#BD1E48"/>
<rect x="730.60" y="55.90" width="16" height="16" rx="2.5" fill="#BD1E48"/>
<rect x="756.96" y="53.20" width="16" height="16" rx="2.5" fill="#BD1E48"/>
<rect x="783.32" y="50.50" width="16" height="16" rx="2.5" fill="#BD1E48"/>
<rect x="809.68" y="47.80" width="16" height="16" rx="2.5" fill="#BD1E48"/>
<rect x="836.04" y="45.30" width="16" height="16" rx="2.5" fill="#BD1E48"/>
<rect x="862.40" y="43.40" width="16" height="16" rx="2.5" fill="#BD1E48"/>
<rect x="888.76" y="40.30" width="16" height="16" rx="2.5" fill="#BD1E48"/>
<rect x="915.12" y="38.60" width="16" height="16" rx="2.5" fill="#BD1E48"/>
<rect x="941.48" y="36.80" width="16" height="16" rx="2.5" fill="#BD1E48"/>
<rect x="967.84" y="35.00" width="16" height="16" rx="2.5" fill="#BD1E48"/>
<rect x="994.20" y="36.70" width="16" height="16" rx="2.5" fill="#BD1E48"/>
</g>
<text x="8.6" y="548.3" font-size="38.5" fill="#000" textLength="24.6" lengthAdjust="spacingAndGlyphs" font-weight="bold" stroke="#000" stroke-width="1.6" stroke-linejoin="round">b</text>
<path d="M377.5,611 C378,622 372,628 345,633 C300,640 240,642 220,651.5 L1007,651.5 C990,645 900,642 760,634 C700,630 686,625 683.5,611 Z" fill="url(#fun)"/>
<path d="M377.5,611 C378,622 372,628 345,633 C300,640 240,642 220,651.5 L218.5,653" fill="none" stroke="#000" stroke-width="2"/>
<path d="M683.5,611 C686,625 700,630 760,634 C900,642 990,645 1005,650.5 L1007.5,652.5" fill="none" stroke="#000" stroke-width="2"/>
<line x1="46.00" y1="561.50" x2="1009.50" y2="561.50" stroke="#3D3D3D" stroke-width="2.6" />
<line x1="46.00" y1="588.00" x2="1009.50" y2="588.00" stroke="#3D3D3D" stroke-width="2.6" />
<rect x="55.00" y="538.2" width="310" height="73.8" rx="5.5" fill="none" stroke="#000" stroke-width="2.4"/>
<rect x="67.30" y="575.80" width="24.4" height="24.4" rx="4" fill="#3A8FBA" stroke="#3D3D3D" stroke-width="1.6"/>
<line x1="108.60" y1="561.50" x2="108.60" y2="588.00" stroke="#3D3D3D" stroke-width="2.6" />
<circle cx="108.60" cy="561.50" r="6.2" fill="#3D3D3D"/>
<circle cx="108.60" cy="588.00" r="6.2" fill="#3D3D3D"/>
<rect x="125.50" y="549.30" width="24.4" height="24.4" rx="4" fill="#3A8FBA" stroke="#3D3D3D" stroke-width="1.6"/>
<line x1="166.80" y1="543.00" x2="166.80" y2="561.50" stroke="#3D3D3D" stroke-width="2.4" />
<line x1="166.80" y1="588.00" x2="166.80" y2="606.80" stroke="#3D3D3D" stroke-width="2.4" />
<circle cx="166.80" cy="561.50" r="6.2" fill="#3D3D3D"/>
<circle cx="166.80" cy="588.00" r="6.2" fill="#3D3D3D"/>
<line x1="195.90" y1="543.00" x2="195.90" y2="561.50" stroke="#3D3D3D" stroke-width="2.4" />
<line x1="195.90" y1="588.00" x2="195.90" y2="606.80" stroke="#3D3D3D" stroke-width="2.4" />
<circle cx="195.90" cy="561.50" r="6.2" fill="#3D3D3D"/>
<circle cx="195.90" cy="588.00" r="6.2" fill="#3D3D3D"/>
<line x1="254.10" y1="543.00" x2="254.10" y2="561.50" stroke="#3D3D3D" stroke-width="2.4" />
<line x1="254.10" y1="588.00" x2="254.10" y2="606.80" stroke="#3D3D3D" stroke-width="2.4" />
<circle cx="254.10" cy="561.50" r="6.2" fill="#3D3D3D"/>
<circle cx="254.10" cy="588.00" r="6.2" fill="#3D3D3D"/>
<rect x="212.80" y="549.30" width="24.4" height="24.4" rx="4" fill="#3A8FBA" stroke="#3D3D3D" stroke-width="1.6"/>
<rect x="271.00" y="575.80" width="24.4" height="24.4" rx="4" fill="#3A8FBA" stroke="#3D3D3D" stroke-width="1.6"/>
<rect x="300.10" y="575.80" width="24.4" height="24.4" rx="4" fill="#35A853" stroke="#3D3D3D" stroke-width="1.6"/>
<rect x="329.10" y="549.7" width="24" height="50.3" rx="5.5" fill="#fff" stroke="#BD1E48" stroke-width="1.9" stroke-dasharray="3.6 1.7"/>
<rect x="375.30" y="538.2" width="310" height="73.8" rx="5.5" fill="none" stroke="#000" stroke-width="2.4"/>
<rect x="387.60" y="575.80" width="24.4" height="24.4" rx="4" fill="#3A8FBA" stroke="#3D3D3D" stroke-width="1.6"/>
<line x1="428.90" y1="561.50" x2="428.90" y2="588.00" stroke="#3D3D3D" stroke-width="2.6" />
<circle cx="428.90" cy="561.50" r="6.2" fill="#3D3D3D"/>
<circle cx="428.90" cy="588.00" r="6.2" fill="#3D3D3D"/>
<rect x="445.80" y="549.30" width="24.4" height="24.4" rx="4" fill="#3A8FBA" stroke="#3D3D3D" stroke-width="1.6"/>
<line x1="487.10" y1="543.00" x2="487.10" y2="561.50" stroke="#3D3D3D" stroke-width="2.4" />
<line x1="487.10" y1="588.00" x2="487.10" y2="606.80" stroke="#3D3D3D" stroke-width="2.4" />
<circle cx="487.10" cy="561.50" r="6.2" fill="#3D3D3D"/>
<circle cx="487.10" cy="588.00" r="6.2" fill="#3D3D3D"/>
<line x1="516.20" y1="543.00" x2="516.20" y2="561.50" stroke="#3D3D3D" stroke-width="2.4" />
<line x1="516.20" y1="588.00" x2="516.20" y2="606.80" stroke="#3D3D3D" stroke-width="2.4" />
<circle cx="516.20" cy="561.50" r="6.2" fill="#3D3D3D"/>
<circle cx="516.20" cy="588.00" r="6.2" fill="#3D3D3D"/>
<line x1="574.40" y1="543.00" x2="574.40" y2="561.50" stroke="#3D3D3D" stroke-width="2.4" />
<line x1="574.40" y1="588.00" x2="574.40" y2="606.80" stroke="#3D3D3D" stroke-width="2.4" />
<circle cx="574.40" cy="561.50" r="6.2" fill="#3D3D3D"/>
<circle cx="574.40" cy="588.00" r="6.2" fill="#3D3D3D"/>
<rect x="533.10" y="549.30" width="24.4" height="24.4" rx="4" fill="#3A8FBA" stroke="#3D3D3D" stroke-width="1.6"/>
<rect x="591.30" y="575.80" width="24.4" height="24.4" rx="4" fill="#3A8FBA" stroke="#3D3D3D" stroke-width="1.6"/>
<rect x="620.40" y="575.80" width="24.4" height="24.4" rx="4" fill="#35A853" stroke="#3D3D3D" stroke-width="1.6"/>
<rect x="649.40" y="549.7" width="24" height="50.3" rx="5.5" fill="#fff" stroke="#BD1E48" stroke-width="1.9" stroke-dasharray="3.6 1.7"/>
<rect x="695.60" y="538.2" width="310" height="73.8" rx="5.5" fill="none" stroke="#000" stroke-width="2.4"/>
<rect x="707.90" y="575.80" width="24.4" height="24.4" rx="4" fill="#3A8FBA" stroke="#3D3D3D" stroke-width="1.6"/>
<line x1="749.20" y1="561.50" x2="749.20" y2="588.00" stroke="#3D3D3D" stroke-width="2.6" />
<circle cx="749.20" cy="561.50" r="6.2" fill="#3D3D3D"/>
<circle cx="749.20" cy="588.00" r="6.2" fill="#3D3D3D"/>
<rect x="766.10" y="549.30" width="24.4" height="24.4" rx="4" fill="#3A8FBA" stroke="#3D3D3D" stroke-width="1.6"/>
<line x1="807.40" y1="543.00" x2="807.40" y2="561.50" stroke="#3D3D3D" stroke-width="2.4" />
<line x1="807.40" y1="588.00" x2="807.40" y2="606.80" stroke="#3D3D3D" stroke-width="2.4" />
<circle cx="807.40" cy="561.50" r="6.2" fill="#3D3D3D"/>
<circle cx="807.40" cy="588.00" r="6.2" fill="#3D3D3D"/>
<line x1="836.50" y1="543.00" x2="836.50" y2="561.50" stroke="#3D3D3D" stroke-width="2.4" />
<line x1="836.50" y1="588.00" x2="836.50" y2="606.80" stroke="#3D3D3D" stroke-width="2.4" />
<circle cx="836.50" cy="561.50" r="6.2" fill="#3D3D3D"/>
<circle cx="836.50" cy="588.00" r="6.2" fill="#3D3D3D"/>
<line x1="894.70" y1="543.00" x2="894.70" y2="561.50" stroke="#3D3D3D" stroke-width="2.4" />
<line x1="894.70" y1="588.00" x2="894.70" y2="606.80" stroke="#3D3D3D" stroke-width="2.4" />
<circle cx="894.70" cy="561.50" r="6.2" fill="#3D3D3D"/>
<circle cx="894.70" cy="588.00" r="6.2" fill="#3D3D3D"/>
<rect x="853.40" y="549.30" width="24.4" height="24.4" rx="4" fill="#3A8FBA" stroke="#3D3D3D" stroke-width="1.6"/>
<rect x="911.60" y="575.80" width="24.4" height="24.4" rx="4" fill="#3A8FBA" stroke="#3D3D3D" stroke-width="1.6"/>
<rect x="940.70" y="575.80" width="24.4" height="24.4" rx="4" fill="#35A853" stroke="#3D3D3D" stroke-width="1.6"/>
<rect x="969.70" y="549.7" width="24" height="50.3" rx="5.5" fill="#fff" stroke="#BD1E48" stroke-width="1.9" stroke-dasharray="3.6 1.7"/>
<text x="135.6" y="701.7" font-size="23.2" fill="#000" text-anchor="end" textLength="48.3" lengthAdjust="spacingAndGlyphs" stroke="#fff" stroke-width="0.3">Data</text>
<text x="135.8" y="729.3" font-size="23.2" fill="#000" text-anchor="end" textLength="56" lengthAdjust="spacingAndGlyphs" stroke="#fff" stroke-width="0.3">qubit</text>
<text x="136.3" y="773.5" font-size="23.3" fill="#000" text-anchor="end" textLength="91.5" lengthAdjust="spacingAndGlyphs" stroke="#fff" stroke-width="0.3">Measure</text>
<text x="135.8" y="800.7" font-size="23.2" fill="#000" text-anchor="end" textLength="56" lengthAdjust="spacingAndGlyphs" stroke="#fff" stroke-width="0.3">qubit</text>
<line x1="195.00" y1="708.50" x2="1016.50" y2="708.50" stroke="#3D3D3D" stroke-width="4.2" />
<line x1="195.00" y1="780.40" x2="1016.50" y2="780.40" stroke="#3D3D3D" stroke-width="4.2" />
<rect x="151.45" y="687.45" width="43" height="42.6" rx="8" fill="#F68D4F" stroke="#3D3D3D" stroke-width="4.3"/>
<circle cx="172.75" cy="780.5" r="21.35" fill="#88BFDB" stroke="#3D3D3D" stroke-width="4.2"/>
<rect x="234.00" y="755.40" width="50" height="50.2" rx="3.8" fill="#3A8FBA" stroke="#3D3D3D" stroke-width="2"/>
<path d="M253.00,770.00V789.80M266.20,770.00V789.80M253.00,779.90H266.20" stroke="#fff" stroke-width="2.1" fill="none"/>
<rect x="392.00" y="683.90" width="50" height="50.2" rx="3.8" fill="#3A8FBA" stroke="#3D3D3D" stroke-width="2"/>
<path d="M411.00,698.50V718.30M424.20,698.50V718.30M411.00,708.40H424.20" stroke="#fff" stroke-width="2.1" fill="none"/>
<rect x="628.00" y="683.90" width="50" height="50.2" rx="3.8" fill="#3A8FBA" stroke="#3D3D3D" stroke-width="2"/>
<path d="M647.00,698.50V718.30M660.20,698.50V718.30M647.00,708.40H660.20" stroke="#fff" stroke-width="2.1" fill="none"/>
<rect x="786.00" y="755.90" width="50" height="50.2" rx="3.8" fill="#3A8FBA" stroke="#3D3D3D" stroke-width="2"/>
<path d="M805.00,770.50V790.30M818.20,770.50V790.30M805.00,780.40H818.20" stroke="#fff" stroke-width="2.1" fill="none"/>
<rect x="864.60" y="755.50" width="50" height="50.2" rx="3.8" fill="#35A853" stroke="#3D3D3D" stroke-width="2"/>
<path d="M881.90,789.90V770.10L890.20,788.60L898.50,770.10V789.90" stroke="#fff" stroke-width="2.1" fill="none" stroke-linejoin="miter" stroke-miterlimit="2"/>
<line x1="337.10" y1="708.50" x2="337.10" y2="780.40" stroke="#3D3D3D" stroke-width="4.2" />
<circle cx="337.10" cy="708.50" r="12.6" fill="#3D3D3D"/>
<circle cx="337.10" cy="780.40" r="12.6" fill="#3D3D3D"/>
<line x1="495.40" y1="658.60" x2="495.40" y2="708.50" stroke="#3D3D3D" stroke-width="4.2" />
<line x1="495.40" y1="780.40" x2="495.40" y2="831.00" stroke="#3D3D3D" stroke-width="4.2" />
<circle cx="495.40" cy="708.50" r="12.6" fill="#3D3D3D"/>
<circle cx="495.40" cy="780.40" r="12.6" fill="#3D3D3D"/>
<line x1="574.10" y1="658.60" x2="574.10" y2="708.50" stroke="#3D3D3D" stroke-width="4.2" />
<line x1="574.10" y1="780.40" x2="574.10" y2="831.00" stroke="#3D3D3D" stroke-width="4.2" />
<circle cx="574.10" cy="708.50" r="12.6" fill="#3D3D3D"/>
<circle cx="574.10" cy="780.40" r="12.6" fill="#3D3D3D"/>
<line x1="731.50" y1="658.60" x2="731.50" y2="708.50" stroke="#3D3D3D" stroke-width="4.2" />
<line x1="731.50" y1="780.40" x2="731.50" y2="831.00" stroke="#3D3D3D" stroke-width="4.2" />
<circle cx="731.50" cy="708.50" r="12.6" fill="#3D3D3D"/>
<circle cx="731.50" cy="780.40" r="12.6" fill="#3D3D3D"/>
<rect x="943.1" y="683.6" width="50.2" height="122" rx="4" fill="#fff" stroke="#BD1E48" stroke-width="2" stroke-dasharray="7.5 4"/>
<path d="M964,756.8V738.5H969.6C973.6,738.5 975.3,740.6 975.3,743.1C975.3,745.7 973.4,747.7 969.6,747.7H964M969.8,747.7L976.2,756.8" stroke="#BD1E48" stroke-width="2" fill="none"/>
<text x="8.6" y="865.2" font-size="37.5" fill="#000" textLength="21.6" lengthAdjust="spacingAndGlyphs" font-weight="bold" stroke="#000" stroke-width="1.6" stroke-linejoin="round">c</text>
<line x1="200.00" y1="870.50" x2="1016.10" y2="870.50" stroke="#000" stroke-width="1.3" />
<line x1="200.00" y1="1251.50" x2="1016.10" y2="1251.50" stroke="#000" stroke-width="1.3" />
<line x1="211.50" y1="870.50" x2="211.50" y2="1251.50" stroke="#000" stroke-width="1.3" />
<line x1="1015.50" y1="870.50" x2="1015.50" y2="1251.50" stroke="#000" stroke-width="1.3" />
<line x1="200.00" y1="1251.40" x2="211.50" y2="1251.40" stroke="#000" stroke-width="1.3" />
<line x1="206.00" y1="1222.77" x2="211.50" y2="1222.77" stroke="#000" stroke-width="1.3" />
<line x1="206.00" y1="1206.03" x2="211.50" y2="1206.03" stroke="#000" stroke-width="1.3" />
<line x1="206.00" y1="1194.14" x2="211.50" y2="1194.14" stroke="#000" stroke-width="1.3" />
<line x1="206.00" y1="1184.93" x2="211.50" y2="1184.93" stroke="#000" stroke-width="1.3" />
<line x1="206.00" y1="1177.40" x2="211.50" y2="1177.40" stroke="#000" stroke-width="1.3" />
<line x1="206.00" y1="1171.03" x2="211.50" y2="1171.03" stroke="#000" stroke-width="1.3" />
<line x1="206.00" y1="1165.52" x2="211.50" y2="1165.52" stroke="#000" stroke-width="1.3" />
<line x1="206.00" y1="1160.65" x2="211.50" y2="1160.65" stroke="#000" stroke-width="1.3" />
<line x1="200.00" y1="1156.30" x2="211.50" y2="1156.30" stroke="#000" stroke-width="1.3" />
<line x1="206.00" y1="1127.67" x2="211.50" y2="1127.67" stroke="#000" stroke-width="1.3" />
<line x1="206.00" y1="1110.93" x2="211.50" y2="1110.93" stroke="#000" stroke-width="1.3" />
<line x1="206.00" y1="1099.04" x2="211.50" y2="1099.04" stroke="#000" stroke-width="1.3" />
<line x1="206.00" y1="1089.83" x2="211.50" y2="1089.83" stroke="#000" stroke-width="1.3" />
<line x1="206.00" y1="1082.30" x2="211.50" y2="1082.30" stroke="#000" stroke-width="1.3" />
<line x1="206.00" y1="1075.93" x2="211.50" y2="1075.93" stroke="#000" stroke-width="1.3" />
<line x1="206.00" y1="1070.42" x2="211.50" y2="1070.42" stroke="#000" stroke-width="1.3" />
<line x1="206.00" y1="1065.55" x2="211.50" y2="1065.55" stroke="#000" stroke-width="1.3" />
<line x1="200.00" y1="1061.20" x2="211.50" y2="1061.20" stroke="#000" stroke-width="1.3" />
<line x1="206.00" y1="1032.57" x2="211.50" y2="1032.57" stroke="#000" stroke-width="1.3" />
<line x1="206.00" y1="1015.83" x2="211.50" y2="1015.83" stroke="#000" stroke-width="1.3" />
<line x1="206.00" y1="1003.94" x2="211.50" y2="1003.94" stroke="#000" stroke-width="1.3" />
<line x1="206.00" y1="994.73" x2="211.50" y2="994.73" stroke="#000" stroke-width="1.3" />
<line x1="206.00" y1="987.20" x2="211.50" y2="987.20" stroke="#000" stroke-width="1.3" />
<line x1="206.00" y1="980.83" x2="211.50" y2="980.83" stroke="#000" stroke-width="1.3" />
<line x1="206.00" y1="975.32" x2="211.50" y2="975.32" stroke="#000" stroke-width="1.3" />
<line x1="206.00" y1="970.45" x2="211.50" y2="970.45" stroke="#000" stroke-width="1.3" />
<line x1="200.00" y1="966.10" x2="211.50" y2="966.10" stroke="#000" stroke-width="1.3" />
<line x1="206.00" y1="937.47" x2="211.50" y2="937.47" stroke="#000" stroke-width="1.3" />
<line x1="206.00" y1="920.73" x2="211.50" y2="920.73" stroke="#000" stroke-width="1.3" />
<line x1="206.00" y1="908.84" x2="211.50" y2="908.84" stroke="#000" stroke-width="1.3" />
<line x1="206.00" y1="899.63" x2="211.50" y2="899.63" stroke="#000" stroke-width="1.3" />
<line x1="206.00" y1="892.10" x2="211.50" y2="892.10" stroke="#000" stroke-width="1.3" />
<line x1="206.00" y1="885.73" x2="211.50" y2="885.73" stroke="#000" stroke-width="1.3" />
<line x1="206.00" y1="880.22" x2="211.50" y2="880.22" stroke="#000" stroke-width="1.3" />
<line x1="206.00" y1="875.35" x2="211.50" y2="875.35" stroke="#000" stroke-width="1.3" />
<line x1="200.00" y1="871.00" x2="211.50" y2="871.00" stroke="#000" stroke-width="1.3" />
<text x="173.8" y="878.8" font-size="23" fill="#000" text-anchor="end" textLength="24.8" lengthAdjust="spacingAndGlyphs" stroke="#fff" stroke-width="0.3">10</text>
<text x="172.9" y="865.6" font-size="15.5" fill="#000" textLength="14.3" lengthAdjust="spacingAndGlyphs" stroke="#fff" stroke-width="0.15">−1</text>
<text x="171.8" y="973.9" font-size="23" fill="#000" text-anchor="end" textLength="24.8" lengthAdjust="spacingAndGlyphs" stroke="#fff" stroke-width="0.3">10</text>
<text x="173.2" y="960.7" font-size="15.5" fill="#000" textLength="15" lengthAdjust="spacingAndGlyphs" stroke="#fff" stroke-width="0.15">−2</text>
<text x="171.8" y="1069.0" font-size="23" fill="#000" text-anchor="end" textLength="24.8" lengthAdjust="spacingAndGlyphs" stroke="#fff" stroke-width="0.3">10</text>
<text x="173.2" y="1055.8" font-size="15.5" fill="#000" textLength="15" lengthAdjust="spacingAndGlyphs" stroke="#fff" stroke-width="0.15">−3</text>
<text x="171.8" y="1164.1" font-size="23" fill="#000" text-anchor="end" textLength="24.8" lengthAdjust="spacingAndGlyphs" stroke="#fff" stroke-width="0.3">10</text>
<text x="173.2" y="1150.8999999999999" font-size="15.5" fill="#000" textLength="15" lengthAdjust="spacingAndGlyphs" stroke="#fff" stroke-width="0.15">−4</text>
<text x="171.8" y="1259.2" font-size="23" fill="#000" text-anchor="end" textLength="24.8" lengthAdjust="spacingAndGlyphs" stroke="#fff" stroke-width="0.3">10</text>
<text x="173.2" y="1246.0" font-size="15.5" fill="#000" textLength="15" lengthAdjust="spacingAndGlyphs" stroke="#fff" stroke-width="0.15">−5</text>
<line x1="219.40" y1="1251.50" x2="219.40" y2="1263.00" stroke="#000" stroke-width="1.3" />
<text x="219.4" y="1292.3" font-size="23" fill="#000" text-anchor="middle" textLength="15.2" lengthAdjust="spacingAndGlyphs" stroke="#fff" stroke-width="0.3">0</text>
<line x1="298.23" y1="1251.50" x2="298.23" y2="1263.00" stroke="#000" stroke-width="1.3" />
<text x="298.23" y="1292.3" font-size="23" fill="#000" text-anchor="middle" stroke="#fff" stroke-width="0.3">1</text>
<line x1="377.06" y1="1251.50" x2="377.06" y2="1263.00" stroke="#000" stroke-width="1.3" />
<text x="377.06" y="1292.3" font-size="23" fill="#000" text-anchor="middle" stroke="#fff" stroke-width="0.3">2</text>
<line x1="455.89" y1="1251.50" x2="455.89" y2="1263.00" stroke="#000" stroke-width="1.3" />
<text x="455.89" y="1292.3" font-size="23" fill="#000" text-anchor="middle" stroke="#fff" stroke-width="0.3">3</text>
<line x1="534.72" y1="1251.50" x2="534.72" y2="1263.00" stroke="#000" stroke-width="1.3" />
<text x="534.72" y="1292.3" font-size="23" fill="#000" text-anchor="middle" stroke="#fff" stroke-width="0.3">4</text>
<line x1="613.55" y1="1251.50" x2="613.55" y2="1263.00" stroke="#000" stroke-width="1.3" />
<text x="613.55" y="1292.3" font-size="23" fill="#000" text-anchor="middle" stroke="#fff" stroke-width="0.3">5</text>
<line x1="692.38" y1="1251.50" x2="692.38" y2="1263.00" stroke="#000" stroke-width="1.3" />
<text x="692.38" y="1292.3" font-size="23" fill="#000" text-anchor="middle" stroke="#fff" stroke-width="0.3">6</text>
<line x1="771.21" y1="1251.50" x2="771.21" y2="1263.00" stroke="#000" stroke-width="1.3" />
<text x="771.2099999999999" y="1292.3" font-size="23" fill="#000" text-anchor="middle" stroke="#fff" stroke-width="0.3">7</text>
<line x1="850.04" y1="1251.50" x2="850.04" y2="1263.00" stroke="#000" stroke-width="1.3" />
<text x="850.04" y="1292.3" font-size="23" fill="#000" text-anchor="middle" stroke="#fff" stroke-width="0.3">8</text>
<line x1="928.87" y1="1251.50" x2="928.87" y2="1263.00" stroke="#000" stroke-width="1.3" />
<text x="928.87" y="1292.3" font-size="23" fill="#000" text-anchor="middle" stroke="#fff" stroke-width="0.3">9</text>
<line x1="1007.70" y1="1251.50" x2="1007.70" y2="1263.00" stroke="#000" stroke-width="1.3" />
<text x="1007.6999999999999" y="1292.3" font-size="23" fill="#000" text-anchor="middle" textLength="27" lengthAdjust="spacingAndGlyphs" stroke="#fff" stroke-width="0.3">10</text>
<text x="471.2" y="1330" font-size="27" fill="#000" textLength="283.3" lengthAdjust="spacingAndGlyphs" stroke="#fff" stroke-width="0.12">Surface code moment</text>
<text transform="translate(123,1214.2) rotate(-90)" font-size="27.5" textLength="309.2" lengthAdjust="spacingAndGlyphs" stroke="#fff" stroke-width="0.12">Avg. leakage population</text>
<rect x="227.80" y="889.30" width="16" height="16" rx="2.5" fill="#000"/>
<circle cx="235.80" cy="923.80" r="8" fill="#000"/>
<text x="256.6" y="905.1" font-size="21.5" fill="#000" textLength="110.6" lengthAdjust="spacingAndGlyphs" stroke="#fff" stroke-width="0.3">Data qubit</text>
<text x="256.6" y="931.4" font-size="21.5" fill="#000" textLength="152.3" lengthAdjust="spacingAndGlyphs" stroke="#fff" stroke-width="0.3">Measure qubit</text>
<text x="623.8" y="929.7" font-size="27.5" fill="#35A853" textLength="55" lengthAdjust="spacingAndGlyphs" stroke="#fff" stroke-width="0.12">MLR</text>
<text x="377.3" y="1148.2" font-size="25" fill="#3A8FBA" textLength="72.5" lengthAdjust="spacingAndGlyphs" stroke="#fff" stroke-width="0.12">DQLR</text>
<g clip-path="url(#clipC)">
<line x1="219.40" y1="1142.60" x2="219.40" y2="1234.70" stroke="#3A8FBA" stroke-width="3.6" />
<line x1="298.23" y1="1151.10" x2="298.23" y2="1251.50" stroke="#3A8FBA" stroke-width="3.6" />
<line x1="377.06" y1="1083.00" x2="377.06" y2="1110.50" stroke="#3A8FBA" stroke-width="3.6" />
<line x1="455.89" y1="1082.20" x2="455.89" y2="1109.40" stroke="#3A8FBA" stroke-width="3.6" />
<line x1="534.72" y1="1043.00" x2="534.72" y2="1052.00" stroke="#3A8FBA" stroke-width="3.6" />
<line x1="613.55" y1="1041.00" x2="613.55" y2="1050.00" stroke="#3A8FBA" stroke-width="3.6" />
<line x1="692.38" y1="1039.00" x2="692.38" y2="1049.00" stroke="#3A8FBA" stroke-width="3.6" />
<line x1="771.21" y1="1027.00" x2="771.21" y2="1036.00" stroke="#3A8FBA" stroke-width="3.6" />
<line x1="850.04" y1="1026.00" x2="850.04" y2="1035.00" stroke="#3A8FBA" stroke-width="3.6" />
<line x1="928.87" y1="1000.00" x2="928.87" y2="1011.00" stroke="#3A8FBA" stroke-width="3.6" />
<line x1="1007.70" y1="1142.50" x2="1007.70" y2="1235.80" stroke="#3A8FBA" stroke-width="3.6" />
<line x1="219.40" y1="1105.70" x2="219.40" y2="1142.60" stroke="#35A853" stroke-width="3.6" />
<line x1="298.23" y1="1104.90" x2="298.23" y2="1145.40" stroke="#35A853" stroke-width="3.6" />
<line x1="377.06" y1="1050.00" x2="377.06" y2="1068.90" stroke="#35A853" stroke-width="3.6" />
<line x1="455.89" y1="1048.00" x2="455.89" y2="1066.00" stroke="#35A853" stroke-width="3.6" />
<line x1="534.72" y1="1025.00" x2="534.72" y2="1036.00" stroke="#35A853" stroke-width="3.6" />
<line x1="613.55" y1="1022.00" x2="613.55" y2="1032.00" stroke="#35A853" stroke-width="3.6" />
<line x1="692.38" y1="1021.00" x2="692.38" y2="1031.00" stroke="#35A853" stroke-width="3.6" />
<line x1="771.21" y1="1009.00" x2="771.21" y2="1018.00" stroke="#35A853" stroke-width="3.6" />
<line x1="850.04" y1="1007.00" x2="850.04" y2="1017.00" stroke="#35A853" stroke-width="3.6" />
<line x1="928.87" y1="990.00" x2="928.87" y2="1000.00" stroke="#35A853" stroke-width="3.6" />
<line x1="1007.70" y1="1105.00" x2="1007.70" y2="1142.50" stroke="#35A853" stroke-width="3.6" />
<polyline points="219.40,948.90 298.23,948.90 377.06,949.80 455.89,949.50 534.72,948.90 613.55,946.90 692.38,946.70 771.21,947.50 850.04,948.10 928.87,948.80 1007.70,948.80" fill="none" stroke="#35A853" stroke-width="4" stroke-linejoin="round" />
<rect x="211.40" y="940.90" width="16" height="16" rx="2.5" fill="#35A853"/>
<rect x="290.23" y="940.90" width="16" height="16" rx="2.5" fill="#35A853"/>
<rect x="369.06" y="941.80" width="16" height="16" rx="2.5" fill="#35A853"/>
<rect x="447.89" y="941.50" width="16" height="16" rx="2.5" fill="#35A853"/>
<rect x="526.72" y="940.90" width="16" height="16" rx="2.5" fill="#35A853"/>
<rect x="605.55" y="938.90" width="16" height="16" rx="2.5" fill="#35A853"/>
<rect x="684.38" y="938.70" width="16" height="16" rx="2.5" fill="#35A853"/>
<rect x="763.21" y="939.50" width="16" height="16" rx="2.5" fill="#35A853"/>
<rect x="842.04" y="940.10" width="16" height="16" rx="2.5" fill="#35A853"/>
<rect x="920.87" y="940.80" width="16" height="16" rx="2.5" fill="#35A853"/>
<rect x="999.70" y="940.80" width="16" height="16" rx="2.5" fill="#35A853"/>
<polyline points="219.40,1167.50 298.23,1177.20 377.06,1094.40 455.89,1093.00 534.72,1047.60 613.55,1045.60 692.38,1044.00 771.21,1031.50 850.04,1030.20 928.87,1005.50 1007.70,1167.50" fill="none" stroke="#3A8FBA" stroke-width="4" stroke-linejoin="round" />
<circle cx="219.40" cy="1167.50" r="8" fill="#3A8FBA"/>
<circle cx="298.23" cy="1177.20" r="8" fill="#3A8FBA"/>
<circle cx="377.06" cy="1094.40" r="8" fill="#3A8FBA"/>
<circle cx="455.89" cy="1093.00" r="8" fill="#3A8FBA"/>
<circle cx="534.72" cy="1047.60" r="8" fill="#3A8FBA"/>
<circle cx="613.55" cy="1045.60" r="8" fill="#3A8FBA"/>
<circle cx="692.38" cy="1044.00" r="8" fill="#3A8FBA"/>
<circle cx="771.21" cy="1031.50" r="8" fill="#3A8FBA"/>
<circle cx="850.04" cy="1030.20" r="8" fill="#3A8FBA"/>
<circle cx="928.87" cy="1005.50" r="8" fill="#3A8FBA"/>
<circle cx="1007.70" cy="1167.50" r="8" fill="#3A8FBA"/>
<polyline points="219.40,1120.70 298.23,1120.20 377.06,1058.90 455.89,1057.00 534.72,1030.60 613.55,1027.20 692.38,1026.10 771.21,1013.60 850.04,1012.00 928.87,995.00 1007.70,1120.80" fill="none" stroke="#35A853" stroke-width="4" stroke-linejoin="round" />
<circle cx="219.40" cy="1120.70" r="8" fill="#35A853"/>
<circle cx="298.23" cy="1120.20" r="8" fill="#35A853"/>
<circle cx="377.06" cy="1058.90" r="8" fill="#35A853"/>
<circle cx="455.89" cy="1057.00" r="8" fill="#35A853"/>
<circle cx="534.72" cy="1030.60" r="8" fill="#35A853"/>
<circle cx="613.55" cy="1027.20" r="8" fill="#35A853"/>
<circle cx="692.38" cy="1026.10" r="8" fill="#35A853"/>
<circle cx="771.21" cy="1013.60" r="8" fill="#35A853"/>
<circle cx="850.04" cy="1012.00" r="8" fill="#35A853"/>
<circle cx="928.87" cy="995.00" r="8" fill="#35A853"/>
<circle cx="1007.70" cy="1120.80" r="8" fill="#35A853"/>
<line x1="219.40" y1="1054.10" x2="219.40" y2="1063.50" stroke="#3A8FBA" stroke-width="3.6" />
<line x1="1007.70" y1="1054.30" x2="1007.70" y2="1063.70" stroke="#3A8FBA" stroke-width="3.6" />
<polyline points="219.40,1054.10 298.23,1048.20 377.06,1034.80 455.89,1031.70 534.72,1026.30 613.55,1011.30 692.38,1010.40 771.21,1008.70 850.04,1008.70 928.87,998.40 1007.70,1054.30" fill="none" stroke="#3A8FBA" stroke-width="4" stroke-linejoin="round" />
<rect x="211.40" y="1046.10" width="16" height="16" rx="2.5" fill="#3A8FBA"/>
<rect x="290.23" y="1040.20" width="16" height="16" rx="2.5" fill="#3A8FBA"/>
<rect x="369.06" y="1026.80" width="16" height="16" rx="2.5" fill="#3A8FBA"/>
<rect x="447.89" y="1023.70" width="16" height="16" rx="2.5" fill="#3A8FBA"/>
<rect x="526.72" y="1018.30" width="16" height="16" rx="2.5" fill="#3A8FBA"/>
<rect x="605.55" y="1003.30" width="16" height="16" rx="2.5" fill="#3A8FBA"/>
<rect x="684.38" y="1002.40" width="16" height="16" rx="2.5" fill="#3A8FBA"/>
<rect x="763.21" y="1000.70" width="16" height="16" rx="2.5" fill="#3A8FBA"/>
<rect x="842.04" y="1000.70" width="16" height="16" rx="2.5" fill="#3A8FBA"/>
<rect x="920.87" y="990.40" width="16" height="16" rx="2.5" fill="#3A8FBA"/>
<rect x="999.70" y="1046.30" width="16" height="16" rx="2.5" fill="#3A8FBA"/>
</g>
</svg>
</body></html>
